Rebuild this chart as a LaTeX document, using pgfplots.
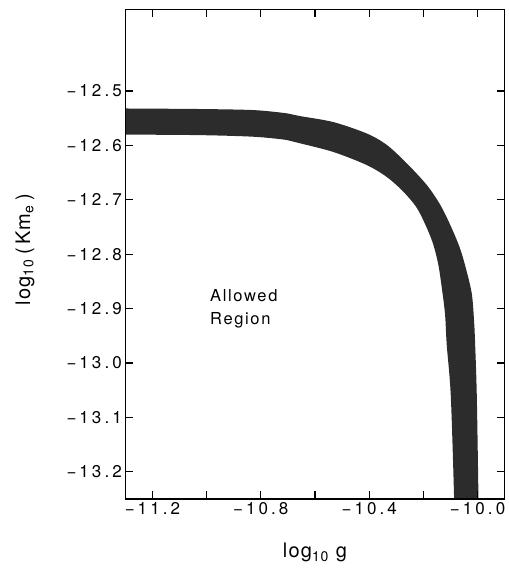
\documentclass[border=0pt]{standalone}
\usepackage{fontspec}
\setmainfont{TeX Gyre Heros}
\newfontfamily\tickfont{TeX Gyre Heros}[LetterSpace=18.0]
\newfontfamily\labfont{TeX Gyre Heros}[LetterSpace=6.0]
\newfontfamily\txtfont{TeX Gyre Heros}[LetterSpace=10.0]
\usepackage{pgfplots}
\pgfplotsset{compat=1.18}
\definecolor{band}{RGB}{44,44,44}
\begin{document}
\begin{tikzpicture}
\begin{axis}[
  name=ax,
  scale only axis,
  width=379.4pt, height=489.5pt,
  xmin=-11.3, xmax=-9.9,
  ymin=-13.25, ymax=-12.35,
  clip mode=individual,
  xtick pos=both, ytick pos=both,
  xticklabel pos=lower, yticklabel pos=left,
  xtick={-11.2,-11.0,-10.8,-10.6,-10.4,-10.2,-10.0},
  ytick={-13.2,-13.1,-13.0,-12.9,-12.8,-12.7,-12.6,-12.5},
  tick align=inside,
  major tick length=8pt,
  every tick/.style={black, line width=1.2pt},
  axis line style={black, line width=1.5pt},
  xticklabels={−11.2,,−10.8,,−10.4,,−10.0},
  yticklabels={−13.2,−13.1,−13.0,−12.9,−12.8,−12.7,−12.6,−12.5},
  ticklabel style={font=\tickfont\fontsize{17}{20}\selectfont},
  xlabel={log\textsubscript{10}\hspace{7pt}g},
  xlabel style={font=\labfont\fontsize{20}{24}\selectfont, at={(axis description cs:0.50,-0.1205)}, anchor=base},
  ylabel={log\textsubscript{10}\hspace{5pt}(\hspace{3pt}Km\textsubscript{e}\hspace{5pt})},
  ylabel style={font=\labfont\fontsize{20}{24}\selectfont, at={(axis description cs:-0.264,0.51)}, anchor=center},
  /pgf/number format/assume math mode=true,
]
\addplot[fill=band, draw=none, smooth, tension=0.5] coordinates {
  (-11.36,-12.532) (-11.300,-12.532) (-11.024,-12.533) (-10.825,-12.535)
  (-10.703,-12.541) (-10.655,-12.546) (-10.532,-12.557) (-10.409,-12.578)
  (-10.335,-12.599) (-10.261,-12.633) (-10.187,-12.673) (-10.138,-12.709)
  (-10.101,-12.746) (-10.065,-12.789) (-10.040,-12.832) (-10.021,-12.874)
  (-10.013,-12.923) (-10.009,-12.966) (-10.003,-13.060) (-9.997,-13.244)
  (-9.996,-13.32)
  (-10.085,-13.32) (-10.087,-13.244) (-10.099,-13.060) (-10.114,-12.966)
  (-10.120,-12.911) (-10.132,-12.862) (-10.145,-12.819) (-10.163,-12.783)
  (-10.187,-12.752) (-10.224,-12.715) (-10.274,-12.685) (-10.335,-12.658)
  (-10.409,-12.636) (-10.532,-12.612) (-10.655,-12.596) (-10.703,-12.590)
  (-10.825,-12.584) (-11.024,-12.581) (-11.300,-12.580) (-11.36,-12.580)
} -- cycle;
\node[anchor=west, align=left, font=\txtfont\fontsize{16.5}{23}\selectfont] at (axis cs:-11.0,-12.9) {Allowed\\Region};
\draw[black, line width=1.5pt] (rel axis cs:0,0) rectangle (rel axis cs:1,1);
\pgfplotsinvokeforeach{-11.2,-11.0,-10.8,-10.6,-10.4,-10.2,-10.0}{
  \draw[black, line width=1.2pt] (axis cs:#1,-13.25) -- ++(0pt,8pt);
  \draw[black, line width=1.2pt] (axis cs:#1,-12.35) -- ++(0pt,-8pt);
}
\pgfplotsinvokeforeach{-13.2,-13.1,-13.0,-12.9,-12.8,-12.7,-12.6,-12.5}{
  \draw[black, line width=1.2pt] (axis cs:-11.3,#1) -- ++(8pt,0pt);
  \draw[black, line width=1.2pt] (axis cs:-9.9,#1) -- ++(-8pt,0pt);
}
\end{axis}
\path (ax.south west) ++(-125.3pt,-75pt) coordinate (bbA);
\path (ax.north east) ++(3.3pt,9.5pt) coordinate (bbB);
\path (bbA) rectangle (bbB);
\end{tikzpicture}
\end{document}
